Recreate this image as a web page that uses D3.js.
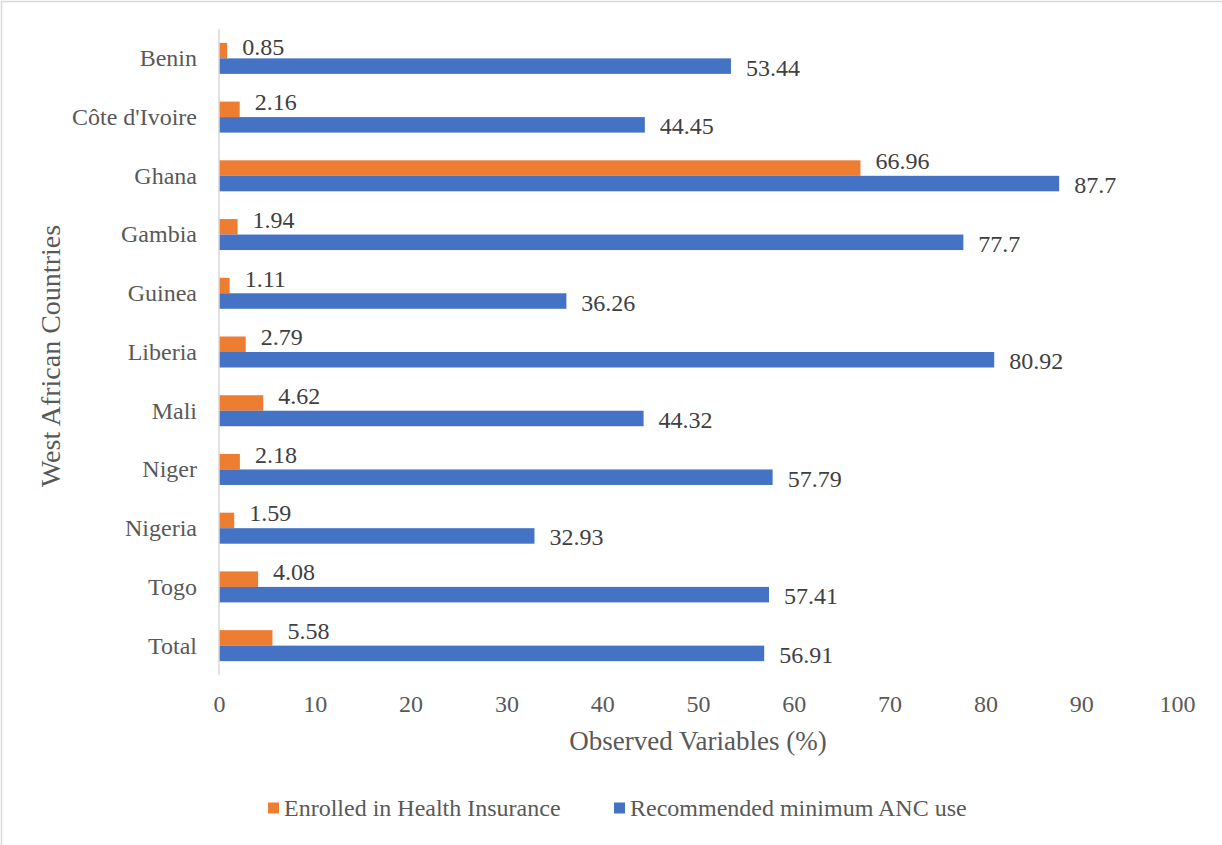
<!DOCTYPE html>
<html>
<head>
<meta charset="utf-8">
<script src="https://cdn.jsdelivr.net/npm/d3@7"></script>
<style>
  html, body { margin: 0; padding: 0; background: #fff; }
  svg { display: block; font-family: "Liberation Serif", "Times New Roman", serif; }
</style>
</head>
<body>
<svg id="chart" width="1222" height="845"></svg>
<script>
// Country categories, top to bottom
const countries = ["Benin", "Côte d'Ivoire", "Ghana", "Gambia", "Guinea", "Liberia",
                   "Mali", "Niger", "Nigeria", "Togo", "Total"];
// Share of women enrolled in health insurance (%)
const insurance = [0.85, 2.16, 66.96, 1.94, 1.11, 2.79, 4.62, 2.18, 1.59, 4.08, 5.58];
// Share meeting recommended minimum ANC use (%)
const ancUse = [53.44, 44.45, 87.7, 77.7, 36.26, 80.92, 44.32, 57.79, 32.93, 57.41, 56.91];
// Axis ticks
const xTicks = [0, 10, 20, 30, 40, 50, 60, 70, 80, 90, 100];
const seriesNames = ["Enrolled in Health Insurance", "Recommended minimum ANC use"];
const seriesColors = ["#ED7D31", "#4472C4"];

const svg = d3.select("#chart");
const W = 1222, H = 845;
const plot = { left: 219, right: 1177, top: 29, bottom: 675 };

// outer frame
svg.append("rect")
  .attr("x", 1.5).attr("y", 1.5)
  .attr("width", W + 10).attr("height", H + 10)
  .attr("fill", "#fff").attr("stroke", "#D9D9D9").attr("stroke-width", 1.5);

const x = d3.scaleLinear().domain([0, 100]).range([plot.left, plot.right]);
const y = d3.scaleBand().domain(countries).range([plot.top, plot.bottom])
  .paddingInner(0.472).paddingOuter(0.236);
const sub = d3.scaleBand().domain([0, 1]).range([0, y.bandwidth()]);

const rows = countries.map((c, i) => ({ country: c, vals: [insurance[i], ancUse[i]] }));

// bars
const groups = svg.append("g").selectAll("g").data(rows).join("g")
  .attr("transform", d => `translate(0,${y(d.country)})`);

groups.selectAll("rect").data(d => d.vals.map((v, k) => ({ v, k }))).join("rect")
  .attr("x", x(0))
  .attr("y", d => sub(d.k))
  .attr("width", d => x(d.v) - x(0))
  .attr("height", sub.bandwidth())
  .attr("fill", d => seriesColors[d.k]);

// data labels
const labelShift = [-7, 1.5];
groups.selectAll("text").data(d => d.vals.map((v, k) => ({ v, k }))).join("text")
  .attr("x", d => x(d.v) + 15)
  .attr("y", function (d) {
    const gy = y(d3.select(this.parentNode).datum().country);
    let cy = gy + sub(d.k) + sub.bandwidth() / 2 + labelShift[d.k];
    cy = Math.max(cy, plot.top + 17.5); // keep inside the plot area
    return cy - gy + 8;
  })
  .attr("font-size", 24)
  .attr("fill", "#404040")
  .text(d => d.v);

// y axis line
svg.append("line")
  .attr("x1", x(0)).attr("x2", x(0))
  .attr("y1", plot.top).attr("y2", plot.bottom)
  .attr("stroke", "#D9D9D9").attr("stroke-width", 1.5);

// y category labels
const yAxis = d3.axisLeft(y).tickSize(0).tickPadding(22);
const gy = svg.append("g").attr("transform", `translate(${x(0)},0)`).call(yAxis);
gy.select(".domain").remove();
gy.selectAll("text")
  .attr("font-family", "Liberation Serif, Times New Roman, serif")
  .attr("font-size", 24).attr("fill", "#595959").attr("dy", "0.33em");

// x tick labels
const xAxis = d3.axisBottom(x).tickValues(xTicks).tickSize(0).tickPadding(20);
const gx = svg.append("g").attr("transform", `translate(0,${plot.bottom})`).call(xAxis);
gx.select(".domain").remove();
gx.selectAll("text")
  .attr("font-family", "Liberation Serif, Times New Roman, serif")
  .attr("font-size", 24).attr("fill", "#595959").attr("dy", "0.71em");

// axis titles
svg.append("text")
  .attr("x", (plot.left + plot.right) / 2).attr("y", 750)
  .attr("text-anchor", "middle").attr("font-size", 27).attr("fill", "#595959")
  .text("Observed Variables (%)");

svg.append("text")
  .attr("transform", `translate(60,${(plot.top + plot.bottom) / 2 + 4}) rotate(-90)`)
  .attr("text-anchor", "middle").attr("font-size", 28).attr("fill", "#595959")
  .text("West African Countries");

// legend
const legendItems = [
  { name: seriesNames[0], color: seriesColors[0], x: 268 },
  { name: seriesNames[1], color: seriesColors[1], x: 614 }
];
const lg = svg.append("g").selectAll("g").data(legendItems).join("g")
  .attr("transform", d => `translate(${d.x},808)`);
lg.append("rect").attr("x", 0).attr("y", -5.5).attr("width", 11).attr("height", 11)
  .attr("fill", d => d.color);
lg.append("text").attr("x", 16).attr("y", 8)
  .attr("font-size", 24).attr("fill", "#595959")
  .text(d => d.name);
</script>
</body>
</html>
